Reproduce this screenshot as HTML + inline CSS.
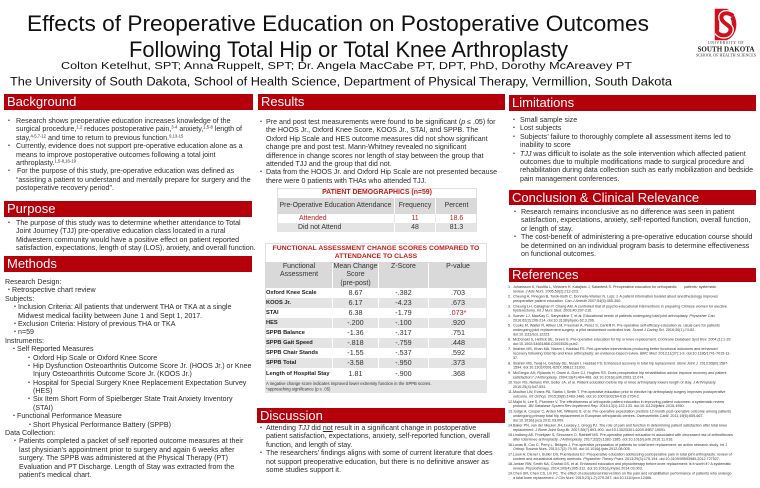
<!DOCTYPE html>
<html><head><meta charset="utf-8">
<style>
*{margin:0;padding:0;box-sizing:border-box}
body{width:760px;height:488px;position:relative;background:#fff;font-family:"Liberation Sans",Arial,sans-serif;color:#2b2b2b;overflow:hidden}
.bar{position:absolute;height:16px;background:#b5000c;color:#fff;font-size:13px;line-height:16px;padding-left:3px;white-space:nowrap}
.blk{position:absolute;left:0;font-size:7.1px;line-height:8.4px;white-space:nowrap;color:#2b2b2b}
.blk>div{position:relative;height:8.4px}
.b{position:absolute;top:0;font-size:5.5px;line-height:8.4px}
sup{font-size:4.2px;line-height:0;vertical-align:2.5px}
.abs{position:absolute}
.row{position:absolute;display:flex;white-space:nowrap}
.row>div{text-align:center}
.ft .c1{width:67px;text-align:left;padding-left:1px;font-weight:bold;font-size:5.7px;color:#222}
.ft .c2{width:46px;border-left:1px solid #fff}
.ft .c3{width:50px;border-left:1px solid #fff}
.ft .c4{width:59px;border-left:1px solid #fff}
.ft{font-size:7.2px;color:#333}
.gray{background:#e4e4e4}
.refs{position:absolute;left:508px;top:285px;width:500px;font-size:7.4px;line-height:8.8px;transform:scale(0.5);transform-origin:0 0;color:#333;white-space:nowrap}
.refs>div{position:relative;padding-left:10px;margin-bottom:1.7px}
.refs span.n{position:absolute;left:0;top:0}
.sm{position:absolute;transform:scale(0.5);transform-origin:0 0;white-space:nowrap}
</style></head><body>

<svg class="abs" style="left:0;top:0" width="760" height="94" xmlns="http://www.w3.org/2000/svg">
<g font-family="Liberation Sans, Arial, sans-serif" fill="#111">
<text x="27" y="31" font-size="22.5" textLength="622" lengthAdjust="spacingAndGlyphs">Effects of Preoperative Education on Postoperative Outcomes</text>
<text x="129" y="57" font-size="22" textLength="439" lengthAdjust="spacingAndGlyphs">Following Total Hip or Total Knee Arthroplasty</text>
<text x="61" y="69" font-size="10" textLength="571" lengthAdjust="spacingAndGlyphs">Colton Ketelhut, SPT; Anna Ruppelt, SPT; Dr. Angela MacCabe PT, DPT, PhD, Dorothy McAreavey PT</text>
<text x="10" y="85.5" font-size="11.5" textLength="662" lengthAdjust="spacingAndGlyphs">The University of South Dakota, School of Health Science, Department of Physical Therapy, Vermillion, South Dakota</text>
</g>
<g transform="translate(714,9)">
<path d="M3 2 H12 A11 14 0 0 1 12 29 H3 Z" fill="none" stroke="#d0101f" stroke-width="4.5"/>
<path d="M19 7 C14 2, 5 4, 8 11 C11 16, 19 17, 16 23 C13 28, 6 27, 3 23" fill="none" stroke="#fff" stroke-width="6.5"/>
<path d="M19 7 C14 2, 5 4, 8 11 C11 16, 19 17, 16 23 C13 28, 6 27, 3 23" fill="none" stroke="#d0101f" stroke-width="4"/>
</g>
<text x="726" y="44" font-size="3.8" text-anchor="middle" font-family="Liberation Serif, serif" fill="#333" letter-spacing="0.6">UNIVERSITY OF</text>
<text x="726" y="51.5" font-size="7.6" text-anchor="middle" font-family="Liberation Serif, serif" font-weight="bold" fill="#222" textLength="57" lengthAdjust="spacingAndGlyphs">SOUTH DAKOTA</text>
<text x="726" y="56.5" font-size="3.6" text-anchor="middle" font-family="Liberation Serif, serif" fill="#333" textLength="60" lengthAdjust="spacingAndGlyphs">SCHOOL OF HEALTH SCIENCES</text>
</svg>

<!-- Column 1 -->
<div class="bar" style="left:4px;top:94px;width:249px">Background</div>
<div class="blk" style="top:117px">
<div style="padding-left:16px"><span class="b" style="left:8px">•</span>Research shows preoperative education increases knowledge of the</div>
<div style="padding-left:16px">surgical procedure,<sup>1,2</sup> reduces postoperative pain,<sup>3-4</sup> anxiety,<sup>1,5-8</sup> length of</div>
<div style="padding-left:16px">stay,<sup>4-5,7-12</sup> and time to return to previous function.<sup>9,13-15</sup></div>
<div style="padding-left:16px"><span class="b" style="left:8px">•</span>Currently, evidence does not support pre-operative education alone as a</div>
<div style="padding-left:16px">means to improve postoperative outcomes following a total joint</div>
<div style="padding-left:16px">arthroplasty.<sup>1,5-8,16-19</sup></div>
<div style="padding-left:17px"><span class="b" style="left:8px">•</span>For the purpose of this study, pre-operative education was defined as</div>
<div style="padding-left:16px">“assisting a patient to understand and mentally prepare for surgery and the</div>
<div style="padding-left:16px">postoperative recovery period”.</div>
</div>

<div class="bar" style="left:4px;top:201px;width:248px">Purpose</div>
<div class="blk" style="top:219px">
<div style="padding-left:16px"><span class="b" style="left:8px">•</span>The purpose of this study was to determine whether attendance to Total</div>
<div style="padding-left:16px">Joint Journey (TJJ) pre-operative education class located in a rural</div>
<div style="padding-left:16px">Midwestern community would have a positive effect on patient reported</div>
<div style="padding-left:16px">satisfaction, expectations, length of stay (LOS), anxiety, and overall function.</div>
</div>

<div class="bar" style="left:4px;top:256px;width:248px">Methods</div>
<div class="blk" style="top:278px">
<div style="padding-left:5px">Research Design:</div>
<div style="padding-left:12px"><span class="b" style="left:8px">•</span>Retrospective chart review</div>
<div style="padding-left:5px">Subjects:</div>
<div style="padding-left:18px"><span class="b" style="left:14px">•</span>Inclusion Criteria: All patients that underwent THA or TKA at a single</div>
<div style="padding-left:18px">Midwest medical facility between June 1 and Sept 1, 2017.</div>
<div style="padding-left:18px"><span class="b" style="left:14px">•</span>Exclusion Criteria: History of previous THA or TKA</div>
<div style="padding-left:18px"><span class="b" style="left:14px">•</span>n=59</div>
<div style="padding-left:5px">Instruments:</div>
<div style="padding-left:17px"><span class="b" style="left:13px">•</span>Self Reported Measures</div>
<div style="padding-left:33px"><span class="b" style="left:28px">•</span>Oxford Hip Scale or Oxford Knee Score</div>
<div style="padding-left:33px"><span class="b" style="left:28px">•</span>Hip Dysfunction Osteoarthritis Outcome Score Jr. (HOOS Jr.) or Knee</div>
<div style="padding-left:33px">Injury Osteoarthritis Outcome Score Jr. (KOOS Jr.)</div>
<div style="padding-left:33px"><span class="b" style="left:28px">•</span>Hospital for Special Surgery Knee Replacement Expectation Survey</div>
<div style="padding-left:33px">(HES)</div>
<div style="padding-left:33px"><span class="b" style="left:28px">•</span>Six Item Short Form of Spielberger State Trait Anxiety Inventory</div>
<div style="padding-left:33px">(STAI)</div>
<div style="padding-left:17px"><span class="b" style="left:13px">•</span>Functional Performance Measure</div>
<div style="padding-left:33px"><span class="b" style="left:29px">•</span>Short Physical Performance Battery (SPPB)</div>
<div style="padding-left:5px">Data Collection:</div>
<div style="padding-left:19px"><span class="b" style="left:14px">•</span>Patients completed a packet of self reported outcome measures at their</div>
<div style="padding-left:19px">last physician's appointment prior to surgery and again 6 weeks after</div>
<div style="padding-left:19px">surgery. The SPPB was administered at the Physical Therapy (PT)</div>
<div style="padding-left:19px">Evaluation and PT Discharge. Length of Stay was extracted from the</div>
<div style="padding-left:19px">patient's medical chart.</div>
</div>

<!-- Column 2 -->
<div class="bar" style="left:258px;top:94px;width:247px">Results</div>
<div class="blk" style="top:118px">
<div style="padding-left:266px"><span class="b" style="left:260px">•</span>Pre and post test measurements were found to be significant (<i>p</i> ≤ .05) for</div>
<div style="padding-left:266px">the HOOS Jr., Oxford Knee Score, KOOS Jr., STAI, and SPPB. The</div>
<div style="padding-left:266px">Oxford Hip Scale and HES outcome measures did not show significant</div>
<div style="padding-left:266px">change pre and post test. Mann-Whitney revealed no significant</div>
<div style="padding-left:266px">difference in change scores nor length of stay between the group that</div>
<div style="padding-left:266px">attended TJJ and the group that did not.</div>
<div style="padding-left:266px"><span class="b" style="left:260px">•</span>Data from the HOOS Jr. and Oxford Hip Scale are not presented because</div>
<div style="padding-left:266px">there were 0 patients with THAs who attended TJJ.</div>
</div>

<!-- Demographics table -->
<div class="abs" style="left:277px;top:188px;width:200px;height:44px;border:1px solid #e0e0e0"></div>
<div class="abs" style="left:277px;top:188px;width:200px;height:10px;line-height:10px;text-align:center;font-size:6.9px;font-weight:bold;color:#c41a1a">PATIENT DEMOGRAPHICS (n=59)</div>
<div class="row" style="left:277px;top:198px;width:200px;height:16px;line-height:16px;background:#d9d9d9;font-size:6.9px;color:#333">
<div style="width:117px">Pre-Operative Education Attendance</div>
<div style="width:41px;border-left:1px solid #fff">Frequency</div>
<div style="width:42px;border-left:1px solid #fff">Percent</div>
</div>
<div class="row" style="left:277px;top:214px;width:200px;height:9px;line-height:9px;font-size:6.9px;color:#c41a1a">
<div style="width:117px;text-align:left;padding-left:22px">Attended</div>
<div style="width:41px;border-left:1px solid #e8e8e8">11</div>
<div style="width:42px;border-left:1px solid #e8e8e8">18.6</div>
</div>
<div class="row gray" style="left:277px;top:223px;width:200px;height:9px;line-height:9px;font-size:6.9px;color:#333">
<div style="width:117px;text-align:left;padding-left:21px">Did not Attend</div>
<div style="width:41px;border-left:1px solid #fff">48</div>
<div style="width:42px;border-left:1px solid #fff">81.3</div>
</div>

<!-- Functional table -->
<div class="abs" style="left:265px;top:243px;width:222px;height:150px;border:1px solid #e0e0e0"></div>
<div class="abs" style="left:265px;top:245px;width:222px;text-align:center;font-size:6.8px;line-height:8.2px;font-weight:bold;color:#c41a1a;white-space:nowrap">FUNCTIONAL ASSESSMENT CHANGE SCORES COMPARED TO<br>ATTENDANCE TO CLASS</div>
<div class="row ft" style="left:265px;top:262px;width:222px;height:26px;background:#d9d9d9;font-size:7px;line-height:8.5px;padding-top:0.5px">
<div class="c1" style="text-align:center;font-weight:normal;font-size:7px;color:#333">Functional<br>Assessment</div>
<div class="c2">Mean Change<br>Score<br>(pre-post)</div>
<div class="c3">Z-Score</div>
<div class="c4">P-value</div>
</div>
<div class="row ft" style="left:265px;top:288px;width:222px;height:10px;line-height:10px"><div class="c1">Oxford Knee Scale</div><div class="c2">8.67</div><div class="c3">-.382</div><div class="c4">.703</div></div>
<div class="row ft gray" style="left:265px;top:298px;width:222px;height:10px;line-height:10px"><div class="c1">KOOS Jr.</div><div class="c2">6.17</div><div class="c3">-4.23</div><div class="c4">.673</div></div>
<div class="row ft" style="left:265px;top:308px;width:222px;height:10px;line-height:10px"><div class="c1">STAI</div><div class="c2">6.38</div><div class="c3">-1.79</div><div class="c4" style="color:#c41a1a">.073*</div></div>
<div class="row ft gray" style="left:265px;top:318px;width:222px;height:10px;line-height:10px"><div class="c1">HES</div><div class="c2">-.200</div><div class="c3">-.100</div><div class="c4">.920</div></div>
<div class="row ft" style="left:265px;top:328px;width:222px;height:10px;line-height:10px"><div class="c1">SPPB Balance</div><div class="c2">-1.36</div><div class="c3">-.317</div><div class="c4">.751</div></div>
<div class="row ft gray" style="left:265px;top:338px;width:222px;height:10px;line-height:10px"><div class="c1">SPPB Gait Speed</div><div class="c2">-.818</div><div class="c3">-.759</div><div class="c4">.448</div></div>
<div class="row ft" style="left:265px;top:348px;width:222px;height:10px;line-height:10px"><div class="c1">SPPB Chair Stands</div><div class="c2">-1.55</div><div class="c3">-.537</div><div class="c4">.592</div></div>
<div class="row ft gray" style="left:265px;top:358px;width:222px;height:10px;line-height:10px"><div class="c1">SPPB Total</div><div class="c2">-3.58</div><div class="c3">-.950</div><div class="c4">.373</div></div>
<div class="row ft" style="left:265px;top:368px;width:222px;height:12px;line-height:12px"><div class="c1">Length of Hospital Stay</div><div class="c2">1.81</div><div class="c3">-.900</div><div class="c4">.368</div></div>
<div class="abs gray" style="left:265px;top:380px;width:222px;height:13px"></div>
<div class="sm" style="left:266px;top:381px;font-size:8.4px;line-height:11px;color:#333">A negative change score indicates improved lower extremity function in the SPPB scores.<br>*approaching significance (p ≤ .05)</div>

<div class="bar" style="left:257px;top:408px;width:248px;height:15px;line-height:15px">Discussion</div>
<div class="blk" style="top:424px">
<div style="padding-left:266px"><span class="b" style="left:260px">•</span>Attending <i>TJJ</i> did <u>not</u> result in a significant change in postoperative</div>
<div style="padding-left:266px">patient satisfaction, expectations, anxiety, self-reported function, overall</div>
<div style="padding-left:266px">function, and length of stay.</div>
<div style="padding-left:266px"><span class="b" style="left:260px">•</span>The researchers' findings aligns with some of current literature that does</div>
<div style="padding-left:266px">not support preoperative education, but there is no definitive answer as</div>
<div style="padding-left:266px">some studies support it.</div>
</div>

<!-- Column 3 -->
<div class="bar" style="left:509px;top:95px;width:247px">Limitations</div>
<div class="blk" style="top:116px">
<div style="padding-left:520px"><span class="b" style="left:513px">•</span>Small sample size</div>
<div style="padding-left:520px"><span class="b" style="left:513px">•</span>Lost subjects</div>
<div style="padding-left:520px"><span class="b" style="left:513px">•</span>Subjects’ failure to thoroughly complete all assessment items led to</div>
<div style="padding-left:520px">inability to score</div>
<div style="padding-left:520px"><span class="b" style="left:513px">•</span><i>TJJ</i> was difficult to isolate as the sole intervention which affected patient</div>
<div style="padding-left:520px">outcomes due to multiple modifications made to surgical procedure and</div>
<div style="padding-left:520px">rehabilitation during data collection such as early mobilization and bedside</div>
<div style="padding-left:520px">pain management conferences.</div>
</div>

<div class="bar" style="left:509px;top:190px;width:247px;height:15px;line-height:15px">Conclusion &amp; Clinical Relevance</div>
<div class="blk" style="top:208px">
<div style="padding-left:521px"><span class="b" style="left:514px">•</span>Research remains inconclusive as no difference was seen in patient</div>
<div style="padding-left:521px">satisfaction, expectations, anxiety, self-reported function, overall function,</div>
<div style="padding-left:521px">or length of stay.</div>
<div style="padding-left:521px"><span class="b" style="left:514px">•</span>The cost-benefit of administering a pre-operative education course should</div>
<div style="padding-left:521px">be determined on an individual program basis to determine effectiveness</div>
<div style="padding-left:521px">on functional outcomes.</div>
</div>

<div class="bar" style="left:509px;top:268px;width:247px;height:14px;line-height:14px">References</div>
<div class="refs">
<div><span class="n">1.</span>Johansson K, Nuutila L, Virtanen H, Katajisto J, Salanterä S. Preoperative education for orthopaedic &nbsp; &nbsp; &nbsp; patients: systematic<br>review. <i>J Adv Nurs.</i> 2005;50(2):212-223.</div>
<div><span class="n">2.</span>Cheung A, Finegan B, Torok-Both C, Donnelly-Warner N, Lujic J. A patient information booklet about anesthesiology improves<br>preoperative patient education. <i>Can J Anesth</i> 2007;54(5):355-360.</div>
<div><span class="n">3.</span>Cheung LH, Callaghan P, Chang AM. A controlled trial of psycho-educational interventions in preparing Chinese women for elective<br>hysterectomy. <i>Int J Nurs Stud.</i> 2003;40:207-216.</div>
<div><span class="n">4.</span>Soever LJ, MacKay C, Saryeddine T, et al. Educational needs of patients undergoing total joint arthroplasty. <i>Physiother Can.</i><br>2010;62(3):206-214. doi:10.3138/physio.62.3.206.</div>
<div><span class="n">5.</span>Cooke M, Walter R, Aitken LM, Freeman A, Perez S, Cantrill R. Pre-operative self-efficacy education vs. usual care for patients<br>undergoing joint replacement surgery: a pilot randomised controlled trial. <i>Scand J Caring Sci.</i> 2016;30(1):74-82.<br>doi:10.1111/scs.12223.</div>
<div><span class="n">6.</span>McDonald S, Hetrick SE, Green S. Pre-operative education for hip or knee replacement. <i>Cochrane Database Syst Rev.</i> 2004;(1):1-29.<br>doi:10.1002/14651858.CD003526.pub2.</div>
<div><span class="n">7.</span>Ibrahim MS, Khan MA, Nizam I, Haddad FS. Peri-operative interventions producing better functional outcomes and enhanced<br>recovery following total hip and knee arthroplasty: an evidence-based review. <i>BMC Med.</i> 2013;11(37):1-9. doi:10.1186/1741-7015-11-<br>37.</div>
<div><span class="n">8.</span>Ibrahim MS, Twaij H, Giebaly DE, Nizam I, Haddad FS. Enhanced recovery in total hip replacement. <i>Bone Joint J.</i> 2013;95(B):1587-<br>1594. doi:10.1302/0301-620X.95B12.31303.</div>
<div><span class="n">9.</span>McGregor AH, Rylands H, Owen A, Dore CJ, Hughes SS. Does preoperative hip rehabilitation advice improve recovery and patient<br>satisfaction? <i>J Arthroplasty.</i> 2004;19(4):464-468. doi:10.1016/j.arth.2003.12.074.</div>
<div><span class="n">10.</span>Yoon RS, Nellans KW, Geller JA, et al. Patient education before hip or knee arthroplasty lowers length of stay. <i>J Arthroplasty.</i><br>2010;25(4):547-551.</div>
<div><span class="n">11.</span>Moulton LW, Evans PA, Starks I, Smith T. Pre-operative education prior to elective hip arthroplasty surgery improves postoperative<br>outcome. <i>Int Orthop.</i> 2015;39(8):1483-1486. doi:10.1007/s00264-015-2754-2.</div>
<div><span class="n">12.</span>Majid N, Lee S, Plummer V. The effectiveness of orthopedic patient education in improving patient outcomes: a systematic review<br>protocol. <i>JBI Database System Rev Implement Rep.</i> 2015;13(1):122-133. doi:10.11124/jbisrir-2015-1950.</div>
<div><span class="n">13.</span>Judge A, Cooper C, Arden NK, Williams S, et al. Pre-operative expectation predicts 12-month post-operative outcome among patients<br>undergoing primary total hip replacement in European orthopaedic centres. <i>Osteoarthritis Cartil.</i> 2011;19(6):659-667.<br>doi:10.1016/j.joca.2011.03.009.</div>
<div><span class="n">14.</span>Baker PN, van der Meulen JH, Lewsey J, Gregg PJ. The role of pain and function in determining patient satisfaction after total knee<br>replacement. <i>J Bone Joint Surg Br.</i> 2007;89(7):893-900. doi:10.1302/0301-620X.89B7.19091.</div>
<div><span class="n">15.</span>Lindberg AE, Froekjaer S, Simonsen O, Rathleff MS. Pre-operative patient education is associated with decreased risk of arthrofibrosis<br>after total knee arthroplasty. <i>J Arthroplasty.</i> 2017;32(5):1382-1385. doi:10.1016/j.arth.2016.11.016.</div>
<div><span class="n">16.</span>Lucas B, Cox C, Perry L, Bridges J. Pre-operative preparation of patients for total knee replacement: an action research study. <i>Int J</i><br><i>Orthop Trauma Nurs.</i> 2013;17(2):79-90. doi:10.1016/j.ijotn.2012.08.005.</div>
<div><span class="n">17.</span>Louw A, Diener I, Butler DS, Puentedura EJ. Preoperative education addressing postoperative pain in total joint arthroplasty: review of<br>content and educational delivery methods. <i>Physiother Theory Pract.</i> 2013;29(3):175-194. doi:10.3109/09593985.2012.727527.</div>
<div><span class="n">18.</span>Jordan RW, Smith NA, Chahal GS, et al. Enhanced education and physiotherapy before knee replacement; is it worth it? A systematic<br>review. <i>Physiotherapy.</i> 2014;100(4):305-312. doi:10.1016/j.physio.2014.03.003.</div>
<div><span class="n">19.</span>Chen SR, Chen CS, Lin PC. The effect of educational intervention on the pain and rehabilitation performance of patients who undergo<br>a total knee replacement. <i>J Clin Nurs.</i> 2015;23(1-2):279-287. doi:10.1111/jocn.12466.</div>
</div>

</body></html>
